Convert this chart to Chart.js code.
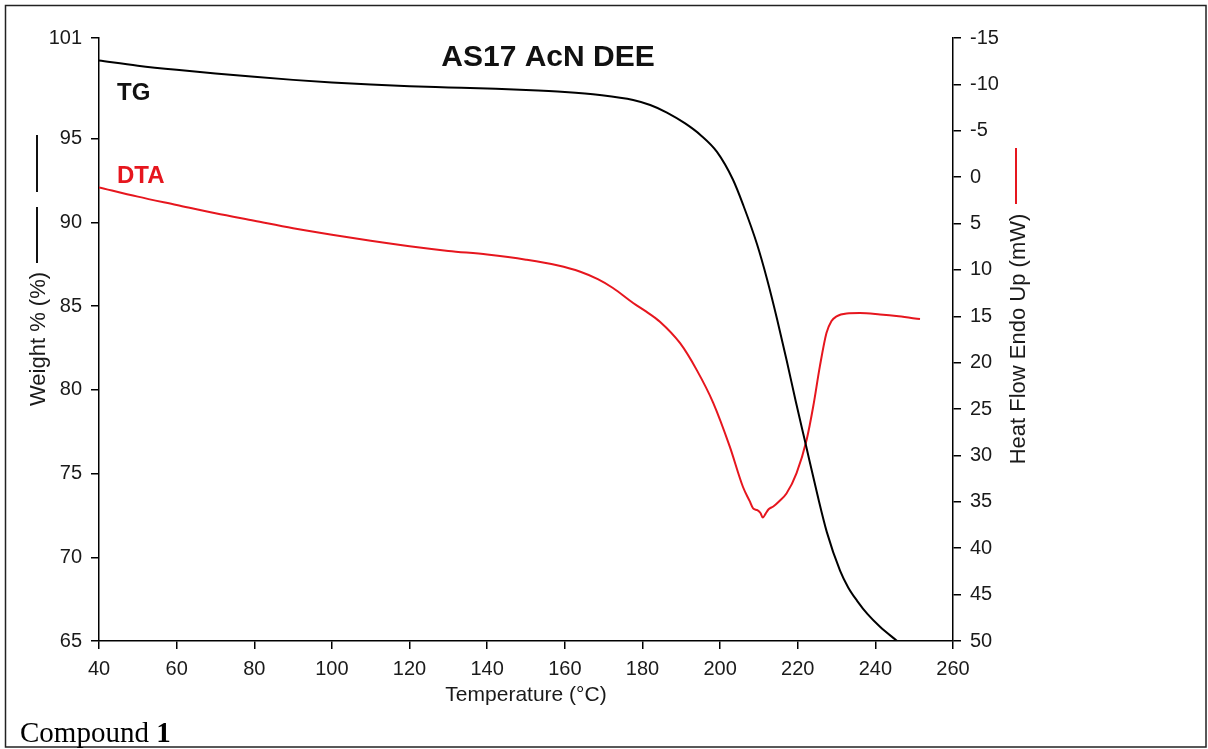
<!DOCTYPE html>
<html>
<head>
<meta charset="utf-8">
<title>AS17 AcN DEE</title>
<script src="https://cdn.jsdelivr.net/npm/chart.js@4.4.1/dist/chart.umd.min.js"></script>
<style>
  html, body { margin: 0; padding: 0; background: #ffffff; }
  #wrap { width: 1208px; height: 749px; position: relative; }
</style>
</head>
<body>
<div id="wrap"><canvas id="c" width="1208" height="749"></canvas></div>
<script>
// Thermogravimetric (TG) trace: temperature (°C) and remaining weight (%)
const tgTemp   = [40, 50, 60, 70, 80, 90, 100, 110, 120, 130, 140, 150, 160, 169, 177.6, 182, 186.3, 191, 195, 199.2, 203.3, 206, 209.5, 212.1, 214.7, 217.2, 219.5, 222, 225, 227.5, 230.9, 233, 235.3, 238, 241.2, 245.6];
const tgWeight = [99.65, 99.35, 99.1, 98.88, 98.68, 98.5, 98.35, 98.22, 98.12, 98.05, 97.98, 97.9, 97.78, 97.6, 97.3, 97.0, 96.55, 95.9, 95.2, 94.2, 92.55, 91.0, 88.7, 86.6, 84.2, 81.7, 79.3, 76.8, 73.8, 71.5, 69.2, 68.2, 67.4, 66.6, 65.85, 65.0];

// Differential thermal analysis (DTA) trace: temperature (°C) and heat flow (mW)
const dtaTemp = [40, 50, 60, 70, 80, 90, 100, 110, 120, 130, 140, 150, 158, 164, 168.5, 172.4, 177.6, 181, 184.5, 189.7, 194, 198.2, 202.5, 205.9, 207.6, 208.5, 209.6, 210.4, 211, 211.7, 212.5, 213.7, 215.3, 217.1, 219.7, 222.3, 224, 225.7, 227.4, 228.7, 230, 232.6, 236, 241.2, 246, 251.5];
const dtaHeat = [1.1, 2.1, 3.0, 3.9, 4.7, 5.5, 6.2, 6.85, 7.45, 7.95, 8.35, 8.9, 9.5, 10.2, 11.0, 11.95, 13.56, 14.5, 15.58, 17.9, 20.8, 24.3, 29.05, 33.4, 34.9, 35.7, 35.9, 36.2, 36.7, 36.3, 35.8, 35.5, 34.9, 34.1, 31.9, 28.3, 24.7, 20.4, 16.8, 15.5, 15.0, 14.7, 14.65, 14.8, 15.0, 15.3];

// Axis tick values
const tempTicks   = [40, 60, 80, 100, 120, 140, 160, 180, 200, 220, 240, 260];
const weightTicks = [65, 70, 75, 80, 85, 90, 95, 101];
const heatTicks   = [-15, -10, -5, 0, 5, 10, 15, 20, 25, 30, 35, 40, 45, 50];

const SANS = '"Liberation Sans", Arial, Helvetica, sans-serif';
const SERIF = '"Liberation Serif", "Times New Roman", serif';
const INK = '#1a1a1a';
const RED = 'rgb(230, 22, 30)';

const toPoints = (xs, ys) => xs.map((x, i) => ({ x: x, y: ys[i] }));
const fixedTicks = values => function (scale) {
  scale.ticks = values.map(v => ({ value: v }));
};

const axisGrid = { drawOnChartArea: false, drawTicks: true, tickLength: 8, color: '#000', lineWidth: 1.5 };
const axisBorder = { display: true, color: '#000', width: 1.5 };
const tickFont = { family: SANS, size: 20 };

// Free-standing text: title, curve labels, axis titles with their line keys, caption, frame
const decorations = {
  id: 'decorations',
  afterDraw(chart) {
    const ctx = chart.ctx;
    ctx.save();

    // outer frame
    ctx.strokeStyle = '#222';
    ctx.lineWidth = 1.5;
    ctx.strokeRect(5.5, 5.5, 1200.5, 741.5);

    // title
    ctx.fillStyle = '#111';
    ctx.textAlign = 'center';
    ctx.textBaseline = 'alphabetic';
    ctx.font = 'bold 30px ' + SANS;
    ctx.fillText('AS17 AcN DEE', 548, 66);

    // curve labels
    ctx.textAlign = 'left';
    ctx.font = 'bold 24px ' + SANS;
    ctx.fillStyle = '#111';
    ctx.fillText('TG', 117, 100);
    ctx.fillStyle = RED;
    ctx.fillText('DTA', 117, 183);

    // x-axis title
    ctx.fillStyle = INK;
    ctx.textAlign = 'center';
    ctx.font = '21px ' + SANS;
    ctx.fillText('Temperature (°C)', 526, 701);

    // left axis title with black line key
    ctx.save();
    ctx.translate(45, 339);
    ctx.rotate(-Math.PI / 2);
    ctx.font = '22px ' + SANS;
    ctx.fillStyle = INK;
    ctx.textAlign = 'center';
    ctx.fillText('Weight % (%)', 0, 0);
    ctx.restore();
    ctx.strokeStyle = '#111';
    ctx.lineWidth = 2;
    ctx.beginPath();
    ctx.moveTo(37, 135); ctx.lineTo(37, 192);
    ctx.moveTo(37, 207); ctx.lineTo(37, 263);
    ctx.stroke();

    // right axis title with red line key
    ctx.save();
    ctx.translate(1025, 339);
    ctx.rotate(-Math.PI / 2);
    ctx.font = '22px ' + SANS;
    ctx.fillStyle = INK;
    ctx.textAlign = 'center';
    ctx.fillText('Heat Flow Endo Up (mW)', 0, 0);
    ctx.restore();
    ctx.strokeStyle = RED;
    ctx.lineWidth = 2;
    ctx.beginPath();
    ctx.moveTo(1016, 148); ctx.lineTo(1016, 204);
    ctx.stroke();

    // caption
    ctx.fillStyle = '#000';
    ctx.textAlign = 'left';
    ctx.font = '29px ' + SERIF;
    const word = 'Compound ';
    ctx.fillText(word, 20, 742);
    const w = ctx.measureText(word).width;
    ctx.font = 'bold 29px ' + SERIF;
    ctx.fillText('1', 20 + w, 742);

    ctx.restore();
  }
};

new Chart(document.getElementById('c'), {
  type: 'line',
  data: {
    datasets: [
      {
        label: 'TG',
        data: toPoints(tgTemp, tgWeight),
        yAxisID: 'y',
        borderColor: '#000',
        borderWidth: 2,
        pointRadius: 0,
        cubicInterpolationMode: 'monotone',
        fill: false
      },
      {
        label: 'DTA',
        data: toPoints(dtaTemp, dtaHeat),
        yAxisID: 'y2',
        borderColor: RED,
        borderWidth: 2,
        pointRadius: 0,
        cubicInterpolationMode: 'monotone',
        fill: false
      }
    ]
  },
  options: {
    responsive: false,
    animation: false,
    devicePixelRatio: 1,
    layout: { padding: { top: 38, left: 0, right: 0, bottom: 0 } },
    plugins: {
      legend: { display: false },
      title: { display: false },
      tooltip: { enabled: false }
    },
    scales: {
      x: {
        type: 'linear',
        min: 40,
        max: 260,
        afterBuildTicks: fixedTicks(tempTicks),
        afterFit(scale) { scale.height = 108; },
        grid: axisGrid,
        border: axisBorder,
        ticks: { font: tickFont, color: INK, padding: 8, maxRotation: 0, autoSkip: false }
      },
      y: {
        type: 'linear',
        position: 'left',
        min: 65,
        max: 101,
        afterBuildTicks: fixedTicks(weightTicks),
        afterFit(scale) { scale.width = 99; },
        grid: axisGrid,
        border: axisBorder,
        ticks: { font: tickFont, color: INK, padding: 9, autoSkip: false }
      },
      y2: {
        type: 'linear',
        position: 'right',
        reverse: true,
        min: -15,
        max: 50,
        afterBuildTicks: fixedTicks(heatTicks),
        afterFit(scale) { scale.width = 255; },
        grid: axisGrid,
        border: axisBorder,
        ticks: { font: tickFont, color: INK, padding: 9, autoSkip: false }
      }
    }
  },
  plugins: [decorations]
});
</script>
</body>
</html>
